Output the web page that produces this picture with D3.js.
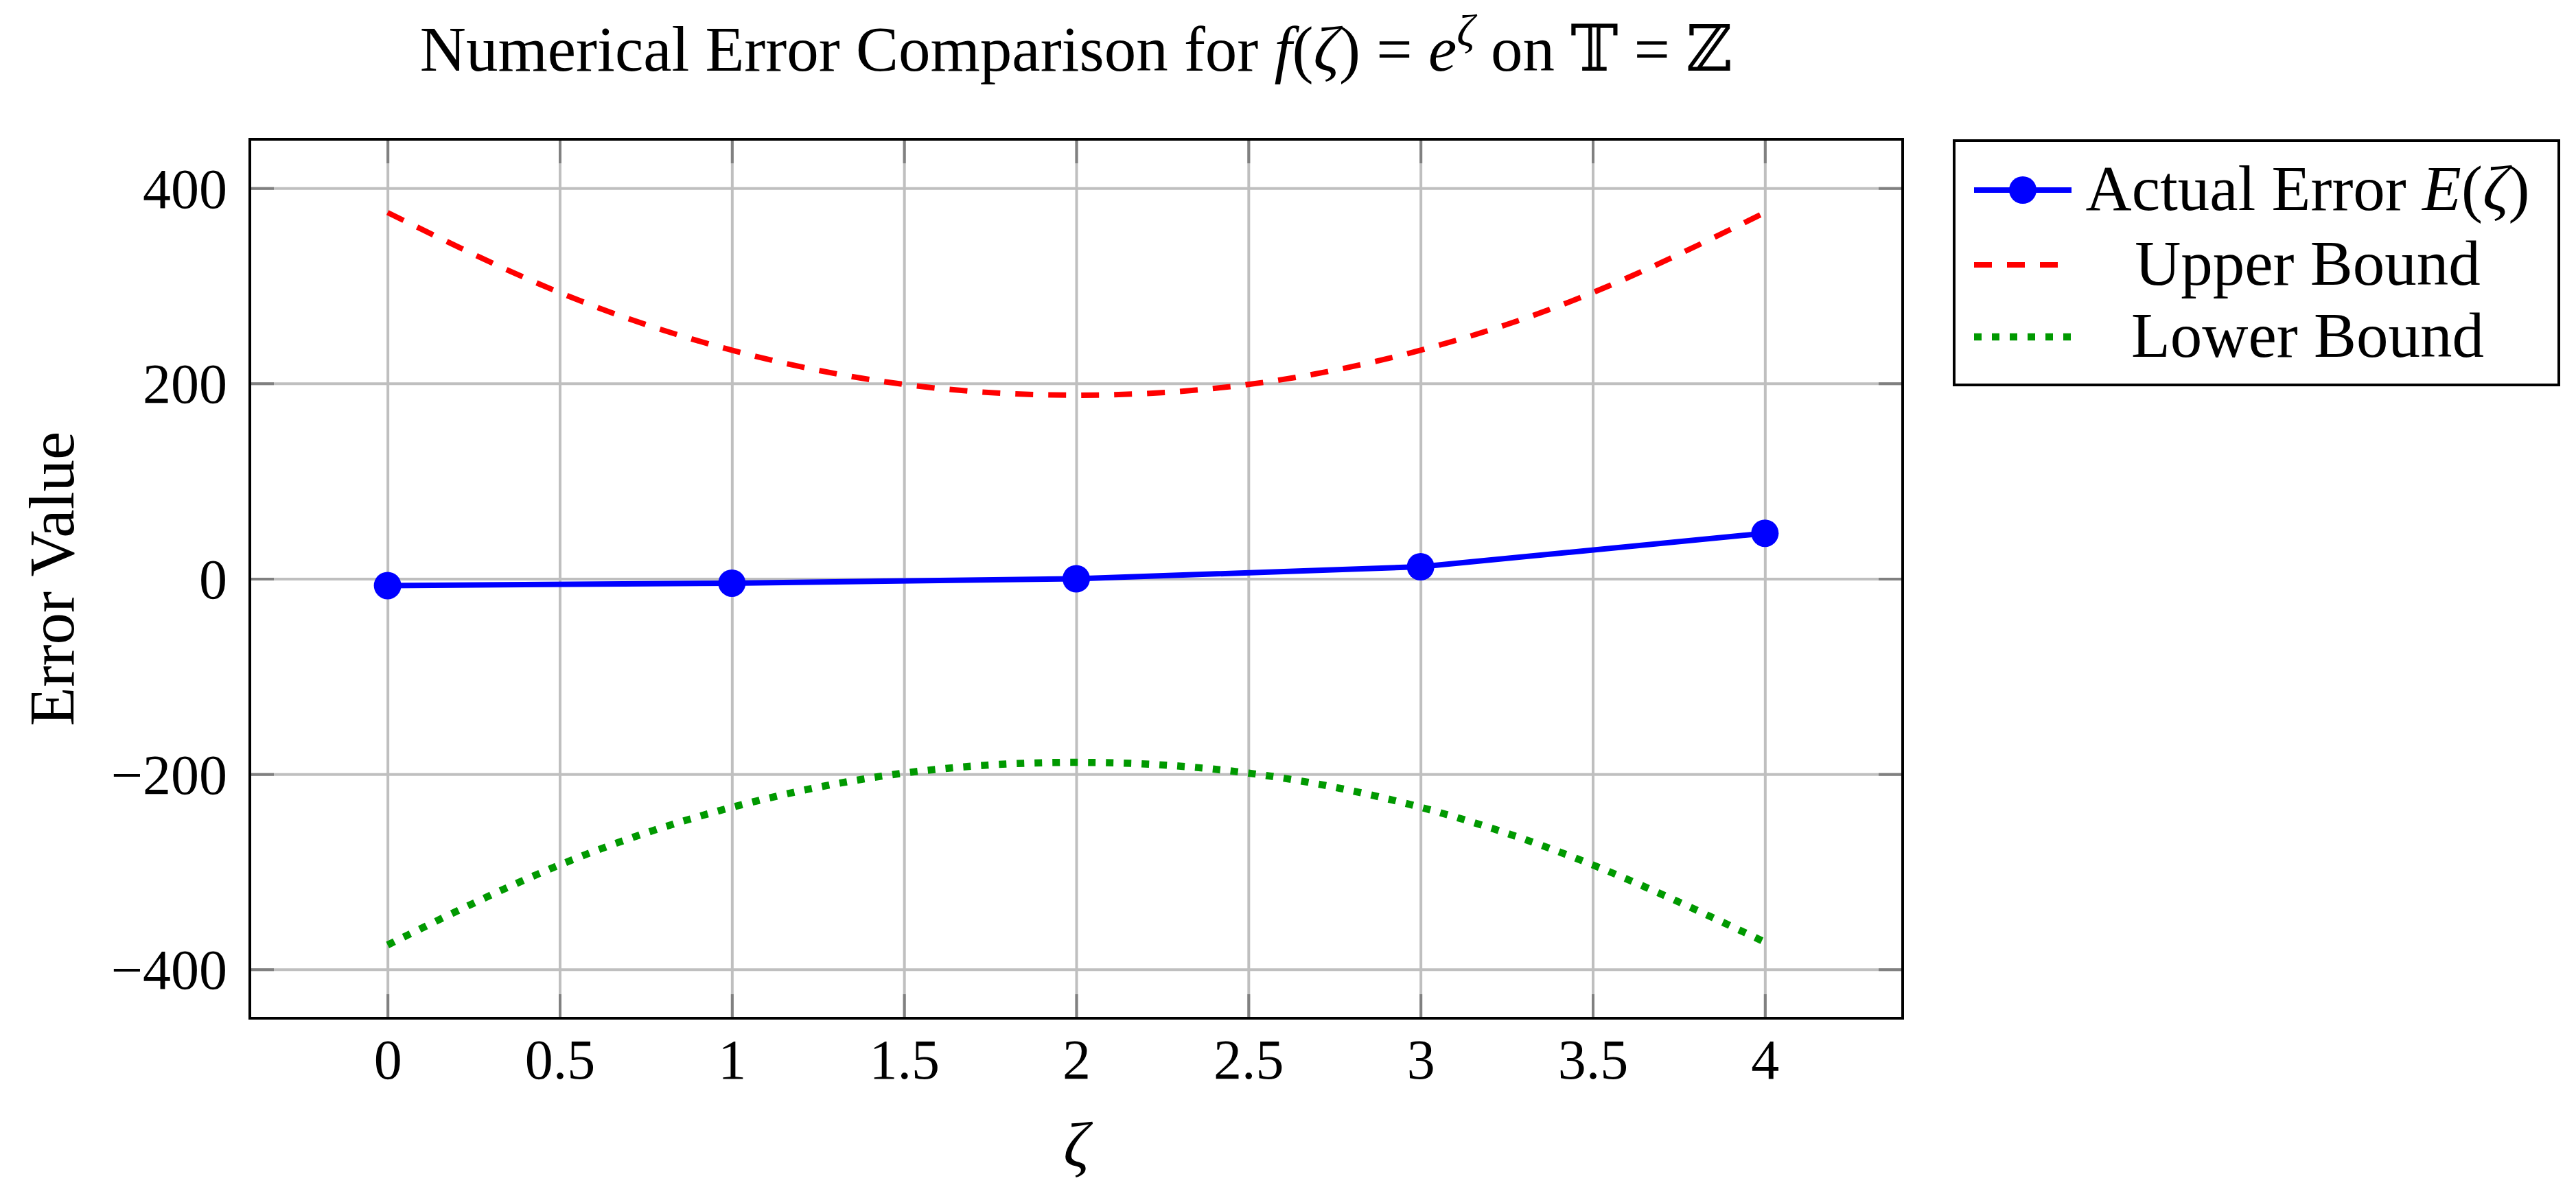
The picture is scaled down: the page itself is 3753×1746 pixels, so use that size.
<!DOCTYPE html>
<html>
 <head>
   <meta charset="utf-8" />
   <title>Numerical Error Comparison</title>
   <script src="https://cdn.jsdelivr.net/npm/d3@7/dist/d3.min.js"></script>
   <style>
     body { margin: 0; background: #fff; }
     text { font-family: "Liberation Serif", "DejaVu Serif", serif; }
   </style>
 </head>

 <body>
   <script>
     // data
     var xTicks = [0, 0.5, 1, 1.5, 2, 2.5, 3, 3.5, 4];
     var yTicks = [-400, -200, 0, 200, 400];

     var zeta        = [0, 1, 2, 3, 4];
     var actualError = [-7, -4.5, 0, 12.3, 46.6];

     var boundX     = [0, 0.5, 1, 1.5, 2, 2.5, 3, 3.5, 4];
     var upperBound = [375, 293, 234, 199, 188, 199, 234, 293, 375];
     var lowerBound = [-375, -293, -234, -199, -188, -199, -234, -293, -372];

     var width = 3753, height = 1746;
     // plot frame (note: "top" is taken by window.top, so p-prefixed names)
     var pLeft = 364, pRight = 2772, pTop = 203, pBottom = 1484;
     var fontSize = 93;     // words
     var numSize  = 82;     // tick numbers

     var svg = d3.select("body")
                 .append("svg")
                 .attr("width",  width)
                 .attr("height", height);

     var x = d3.scaleLinear().domain([-0.4, 4.4]).range([pLeft, pRight]);
     var y = d3.scaleLinear().domain([-450, 450]).range([pBottom, pTop]);

     // grid
     svg.append("g")
        .attr("transform", "translate(0," + pBottom + ")")
        .call(d3.axisBottom(x).tickValues(xTicks).tickSize(-(pBottom - pTop)).tickFormat(""))
        .call(function(g) { g.select(".domain").remove(); })
        .selectAll("line")
        .attr("stroke", "#bfbfbf")
        .attr("stroke-width", 4);

     svg.append("g")
        .attr("transform", "translate(" + pLeft + ",0)")
        .call(d3.axisLeft(y).tickValues(yTicks).tickSize(-(pRight - pLeft)).tickFormat(""))
        .call(function(g) { g.select(".domain").remove(); })
        .selectAll("line")
        .attr("stroke", "#bfbfbf")
        .attr("stroke-width", 4);

     // inward tick marks on all four sides
     var tickLen = 35;
     [[d3.axisBottom(x), "translate(0," + pBottom + ")", xTicks],
      [d3.axisTop(x),    "translate(0," + pTop + ")",    xTicks],
      [d3.axisLeft(y),   "translate(" + pLeft + ",0)",   yTicks],
      [d3.axisRight(y),  "translate(" + pRight + ",0)",  yTicks]].forEach(function(a) {
        svg.append("g")
           .attr("transform", a[1])
           .call(a[0].tickValues(a[2]).tickSize(-tickLen).tickFormat(""))
           .call(function(g) { g.select(".domain").remove(); })
           .selectAll("line")
           .attr("stroke", "#808080")
           .attr("stroke-width", 4);
     });

     // tick labels
     var xLab = svg.append("g")
        .attr("transform", "translate(0," + pBottom + ")")
        .call(d3.axisBottom(x).tickValues(xTicks).tickSize(0).tickPadding(0)
                .tickFormat(function(d) { return String(d); }));
     xLab.select(".domain").remove();
     xLab.selectAll("text")
         .attr("font-family", "Liberation Serif")
         .attr("font-size", numSize)
         .attr("fill", "#000")
         .attr("dy", null)
         .attr("y", 88);

     var yLab = svg.append("g")
        .attr("transform", "translate(" + pLeft + ",0)")
        .call(d3.axisLeft(y).tickValues(yTicks).tickSize(0).tickPadding(33));
     yLab.select(".domain").remove();
     yLab.selectAll("text")
         .attr("font-family", "Liberation Serif")
         .attr("font-size", numSize)
         .attr("fill", "#000")
         .attr("dy", "0.34em");

     // series
     var line = d3.line()
                  .x(function(d) { return x(d[0]); })
                  .y(function(d) { return y(d[1]); })
                  .curve(d3.curveNatural);

     svg.append("path")
        .datum(d3.zip(boundX, upperBound))
        .attr("d", line)
        .attr("fill", "none")
        .attr("stroke", "#ff0000")
        .attr("stroke-width", 8)
        .attr("stroke-dasharray", "26,22");

     svg.append("path")
        .datum(d3.zip(boundX, lowerBound))
        .attr("d", line)
        .attr("fill", "none")
        .attr("stroke", "#009900")
        .attr("stroke-width", 10.5)
        .attr("stroke-dasharray", "11,15");

     var errPts = d3.zip(zeta, actualError);
     svg.append("path")
        .datum(errPts)
        .attr("d", line.curve(d3.curveLinear))
        .attr("fill", "none")
        .attr("stroke", "#0000ff")
        .attr("stroke-width", 8);

     svg.selectAll("circle.mark")
        .data(errPts)
        .enter().append("circle")
        .attr("class", "mark")
        .attr("cx", function(d) { return x(d[0]); })
        .attr("cy", function(d) { return y(d[1]); })
        .attr("r", 20)
        .attr("fill", "#0000ff");

     // frame
     svg.append("rect")
        .attr("x", pLeft).attr("y", pTop)
        .attr("width", pRight - pLeft).attr("height", pBottom - pTop)
        .attr("fill", "none")
        .attr("stroke", "#000")
        .attr("stroke-width", 4);

     // title
     var title = svg.append("text")
        .attr("x", (pLeft + pRight) / 2)
        .attr("y", 103)
        .attr("text-anchor", "middle")
        .attr("font-size", fontSize);
     title.append("tspan").text("Numerical Error Comparison for ");
     title.append("tspan").attr("font-style", "italic").text("f");
     title.append("tspan").text("(");
     title.append("tspan").attr("font-style", "italic").text("\u03B6");
     title.append("tspan").text(") = ");
     title.append("tspan").attr("font-style", "italic").text("e");
     title.append("tspan").attr("font-style", "italic").attr("font-size", fontSize * 0.7)
          .attr("dy", -36).text("\u03B6");
     title.append("tspan").attr("dy", 36).text(" on ");
     title.append("tspan").attr("font-family", "DejaVu Serif").text("\uD835\uDD4B");
     title.append("tspan").text(" = ");
     title.append("tspan").attr("font-family", "DejaVu Serif").text("\u2124");

     // axis labels
     svg.append("text")
        .attr("x", (pLeft + pRight) / 2)
        .attr("y", 1700)
        .attr("text-anchor", "middle")
        .attr("font-size", fontSize)
        .attr("font-style", "italic")
        .text("\u03B6");

     svg.append("text")
        .attr("transform", "translate(107," + (pTop + pBottom) / 2 + ") rotate(-90)")
        .attr("text-anchor", "middle")
        .attr("font-size", fontSize)
        .text("Error Value");

     // legend
     var legX = 2847, legY = 205, legW = 881, legH = 356;
     var legend = svg.append("g");
     legend.append("rect")
        .attr("x", legX).attr("y", legY)
        .attr("width", legW).attr("height", legH)
        .attr("fill", "#fff")
        .attr("stroke", "#000")
        .attr("stroke-width", 4);

     var rows = [277, 386, 491];
     var sx0 = 2876, sx1 = 3018, textX = 3362;

     legend.append("line")
        .attr("x1", sx0).attr("x2", sx1).attr("y1", rows[0]).attr("y2", rows[0])
        .attr("stroke", "#0000ff").attr("stroke-width", 8);
     legend.append("circle")
        .attr("cx", (sx0 + sx1) / 2).attr("cy", rows[0]).attr("r", 20)
        .attr("fill", "#0000ff");
     legend.append("line")
        .attr("x1", sx0).attr("x2", sx1).attr("y1", rows[1]).attr("y2", rows[1])
        .attr("stroke", "#ff0000").attr("stroke-width", 8)
        .attr("stroke-dasharray", "26,22");
     legend.append("line")
        .attr("x1", sx0).attr("x2", sx1).attr("y1", rows[2]).attr("y2", rows[2])
        .attr("stroke", "#009900").attr("stroke-width", 10.5)
        .attr("stroke-dasharray", "11,15");

     var t0 = legend.append("text")
        .attr("x", textX).attr("y", rows[0] + 29)
        .attr("text-anchor", "middle").attr("font-size", fontSize);
     t0.append("tspan").text("Actual Error ");
     t0.append("tspan").attr("font-style", "italic").text("E");
     t0.append("tspan").text("(");
     t0.append("tspan").attr("font-style", "italic").text("\u03B6");
     t0.append("tspan").text(")");

     legend.append("text")
        .attr("x", textX).attr("y", rows[1] + 29)
        .attr("text-anchor", "middle").attr("font-size", fontSize)
        .text("Upper Bound");
     legend.append("text")
        .attr("x", textX).attr("y", rows[2] + 29)
        .attr("text-anchor", "middle").attr("font-size", fontSize)
        .text("Lower Bound");
   </script>
 </body>
</html>
